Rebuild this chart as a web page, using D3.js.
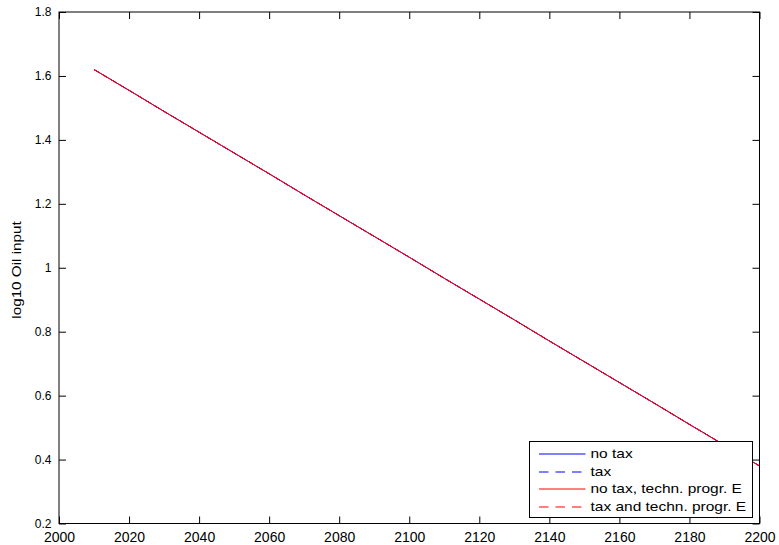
<!DOCTYPE html>
<html>
<head>
<meta charset="utf-8">
<script src="https://cdn.jsdelivr.net/npm/d3@7"></script>
<style>
  body { margin: 0; background: #fff; }
  svg text { font-family: "Liberation Sans", Arial, sans-serif; }
</style>
</head>
<body>
<div id="chart"></div>
<script>
// data
let years = [2010, 2020, 2030, 2040, 2050, 2060, 2070, 2080, 2090, 2100,
             2110, 2120, 2130, 2140, 2150, 2160, 2170, 2180, 2190, 2200];
let noTax = [1.620, 1.555, 1.489, 1.424, 1.359, 1.294, 1.228, 1.163, 1.098, 1.033,
             0.967, 0.902, 0.837, 0.771, 0.706, 0.641, 0.576, 0.510, 0.445, 0.380];
let tax = noTax.slice();
let noTaxTech = noTax.slice();
let taxTech = noTax.slice();

let xTicks = [2000, 2020, 2040, 2060, 2080, 2100, 2120, 2140, 2160, 2180, 2200];
let yTicks = [0.2, 0.4, 0.6, 0.8, 1, 1.2, 1.4, 1.6, 1.8];

let seriesNames = ["no tax", "tax", "no tax, techn. progr. E", "tax and techn. progr. E"];
let seriesData = [noTax, tax, noTaxTech, taxTech];
let seriesColors = ["#0000ff", "#0000ff", "#ff0000", "#ff0000"];
let seriesDash = [null, "6,4", null, "6,4"];

let W = 779, H = 545;
let margin = {top: 12, right: 19.5, bottom: 21.5, left: 59};
let width = W - margin.left - margin.right;
let height = H - margin.top - margin.bottom;

let svg = d3.select("#chart").append("svg")
    .attr("width", W)
    .attr("height", H)
    .append("g")
    .attr("transform", `translate(${margin.left},${margin.top})`);

let x = d3.scaleLinear().domain([2000, 2200]).range([0, width]);
let y = d3.scaleLinear().domain([0.2, 1.8]).range([height, 0]);

// axes with inward ticks (box style)
let fmt = d => String(+d.toFixed(1));
svg.append("g")
    .attr("transform", `translate(0,${height})`)
    .call(d3.axisBottom(x).tickValues(xTicks).tickSizeInner(-7).tickSizeOuter(0).tickPadding(8.5).tickFormat(d3.format("d")))
    .call(g => g.select(".domain").remove())
    .call(g => g.selectAll("text").style("font-size", "14px"));
svg.append("g")
    .call(d3.axisTop(x).tickValues(xTicks).tickSizeInner(-7).tickSizeOuter(0).tickFormat(""))
    .call(g => g.select(".domain").remove());
svg.append("g")
    .call(d3.axisLeft(y).tickValues(yTicks).tickSizeInner(-7).tickSizeOuter(0).tickPadding(7.5).tickFormat(fmt))
    .call(g => g.select(".domain").remove())
    .call(g => g.selectAll("text").style("font-size", "12px"));
svg.append("g")
    .attr("transform", `translate(${width},0)`)
    .call(d3.axisRight(y).tickValues(yTicks).tickSizeInner(-7).tickSizeOuter(0).tickFormat(""))
    .call(g => g.select(".domain").remove());

svg.selectAll(".tick text").attr("fill", "#000");
svg.selectAll(".tick line").attr("stroke", "#000");

// lines
let line = d3.line()
    .x((d, i) => x(years[i]))
    .y(d => y(d));

seriesData.forEach((s, k) => {
    svg.append("path")
        .datum(s)
        .attr("fill", "none")
        .attr("stroke", seriesColors[k])
        .attr("stroke-width", 1)
        .attr("stroke-dasharray", seriesDash[k])
        .attr("d", line);
});

// box
svg.append("rect")
    .attr("width", width)
    .attr("height", height)
    .attr("fill", "none")
    .attr("stroke", "#000")
    .attr("stroke-width", 1);

// text in the reference is a bit stretched lengthwise
function stretch(sel, f) {
    sel.each(function () {
        let w = this.getComputedTextLength();
        d3.select(this).attr("textLength", w * f).attr("lengthAdjust", "spacingAndGlyphs");
    });
}

// y label
svg.append("text")
    .attr("transform", `translate(${21 - margin.left},${270 - margin.top}) rotate(-90)`)
    .attr("text-anchor", "middle")
    .style("font-size", "12px")
    .text("log10 Oil input")
    .call(stretch, 1.27);

// legend
let lg = svg.append("g").attr("transform", `translate(${529.5 - margin.left},${441.5 - margin.top})`);
lg.append("rect")
    .attr("width", 223)
    .attr("height", 76)
    .attr("fill", "#fff")
    .attr("stroke", "#000");
seriesNames.forEach((n, k) => {
    // sample lines sit between pixel rows, soft like the reference
    let yy = Math.round(11.8 + k * 17.8) + 0.5;
    lg.append("line")
        .attr("x1", 9.5).attr("x2", 56)
        .attr("y1", yy).attr("y2", yy)
        .attr("stroke", seriesColors[k])
        .attr("stroke-dasharray", seriesDash[k] ? "9.5,7" : null);
    lg.append("text")
        .attr("x", 61)
        .attr("y", yy + 4.2)
        .style("font-size", "13px")
        .text(n)
        .call(stretch, 1.19);
});
</script>
</body>
</html>
